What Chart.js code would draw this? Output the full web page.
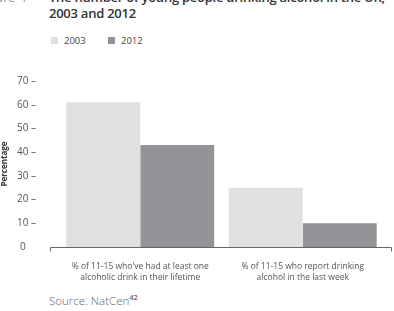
<!DOCTYPE html>
<html>
<head>
<meta charset="utf-8">
<script src="https://cdn.jsdelivr.net/npm/chart.js@4.4.0/dist/chart.umd.min.js"></script>
<style>
  body { margin: 0; background: #fff; font-family: "Open Sans", sans-serif; }
  #wrap { position: relative; width: 394px; height: 311px; overflow: hidden; }
  #fig { position: absolute; left: -22px; top: -11px; font-size: 13px; color: #999; line-height: 16px; }
  #title { position: absolute; left: 49px; top: -11px; white-space: nowrap; font-size: 13px; font-weight: 600; color: #333; line-height: 16px; letter-spacing: -0.25px; }
  #legend { position: absolute; left: 51px; top: 35px; font-size: 9.5px; color: #444; }
  .item { position: absolute; top: 0; white-space: nowrap; line-height: 12px; }
  .box { display: inline-block; width: 7px; height: 7px; margin-right: 6px; vertical-align: 0px; }
  #chartBox { position: absolute; left: 0; top: 60px; width: 394px; height: 220px; }
  #source { position: absolute; left: 49px; top: 294px; font-size: 11.5px; color: #666; font-weight: 300; line-height: 14px; }
  #source sup { font-size: 7.5px; font-weight: 600; vertical-align: 5px; line-height: 0; }
</style>
</head>
<body>
<div id="wrap">
  <div id="fig">Figure 4</div>
  <div id="title">The number of young people drinking alcohol in the UK,<br>2003 and 2012</div>
  <div id="legend"></div>
  <div id="chartBox"><canvas id="chart"></canvas></div>
  <div id="source">Source: NatCen<sup>42</sup></div>
</div>
<script>
// Chart values
const categories = [
    ["% of 11-15 who've had at least one", "alcoholic drink in their lifetime"],
    ["% of 11-15 who report drinking", "alcohol in the last week"]
];
const years = ["2003", "2012"];
const values2003 = [61, 25];
const values2012 = [43, 10];
const colors = ["#e0e0e0", "#929497"];

// Simple html legend
const legend = document.getElementById("legend");
const legendX = [0, 57];
years.forEach((y, i) => {
    legend.innerHTML += `<span class="item" style="left:${legendX[i]}px"><span class="box" style="background:${colors[i]}"></span>${y}</span>`;
});

// Bottom axis line that runs a bit past the bars, with end ticks
const axisLine = {
    id: "axisLine",
    afterDraw(chart) {
        const ctx = chart.ctx;
        const a = chart.chartArea;
        const y = a.bottom + 0.5;
        ctx.save();
        ctx.strokeStyle = "#666";
        ctx.lineWidth = 1;
        ctx.beginPath();
        ctx.moveTo(a.left - 8.5, y + 4);
        ctx.lineTo(a.left - 8.5, y);
        ctx.lineTo(a.right + 7.5, y);
        ctx.lineTo(a.right + 7.5, y + 4);
        ctx.stroke();
        ctx.restore();
    }
};

new Chart(document.getElementById("chart"), {
    type: "bar",
    data: {
        labels: categories,
        datasets: [
            { label: years[0], data: values2003, backgroundColor: colors[0] },
            { label: years[1], data: values2012, backgroundColor: colors[1] }
        ]
    },
    options: {
        responsive: true,
        maintainAspectRatio: false,
        animation: false,
        layout: { padding: { top: 19, right: 10, left: 0, bottom: 0 } },
        datasets: { bar: { categoryPercentage: 0.91, barPercentage: 1 } },
        plugins: { legend: { display: false }, tooltip: { enabled: false } },
        scales: {
            x: {
                grid: { display: false },
                border: { display: false },
                ticks: {
                    color: "#555",
                    font: { family: "Open Sans", size: 8.5, lineHeight: 1.3 },
                    padding: 6,
                    maxRotation: 0
                },
                afterFit: s => { s.height = 33; }
            },
            y: {
                min: 0,
                max: 70,
                grid: { display: false },
                border: { display: false },
                ticks: {
                    stepSize: 10,
                    color: "#555",
                    font: { family: "Open Sans", size: 10 },
                    padding: 15,
                    callback: v => v === 0 ? "0    " : v + " \u2013"
                },
                title: {
                    display: true,
                    text: "Percentage",
                    color: "#333",
                    font: { family: "Open Sans", size: 8, weight: "bold" },
                    padding: 0
                },
                afterFit: s => { s.width = 59; }
            }
        }
    },
    plugins: [axisLine]
});
</script>
</body>
</html>
